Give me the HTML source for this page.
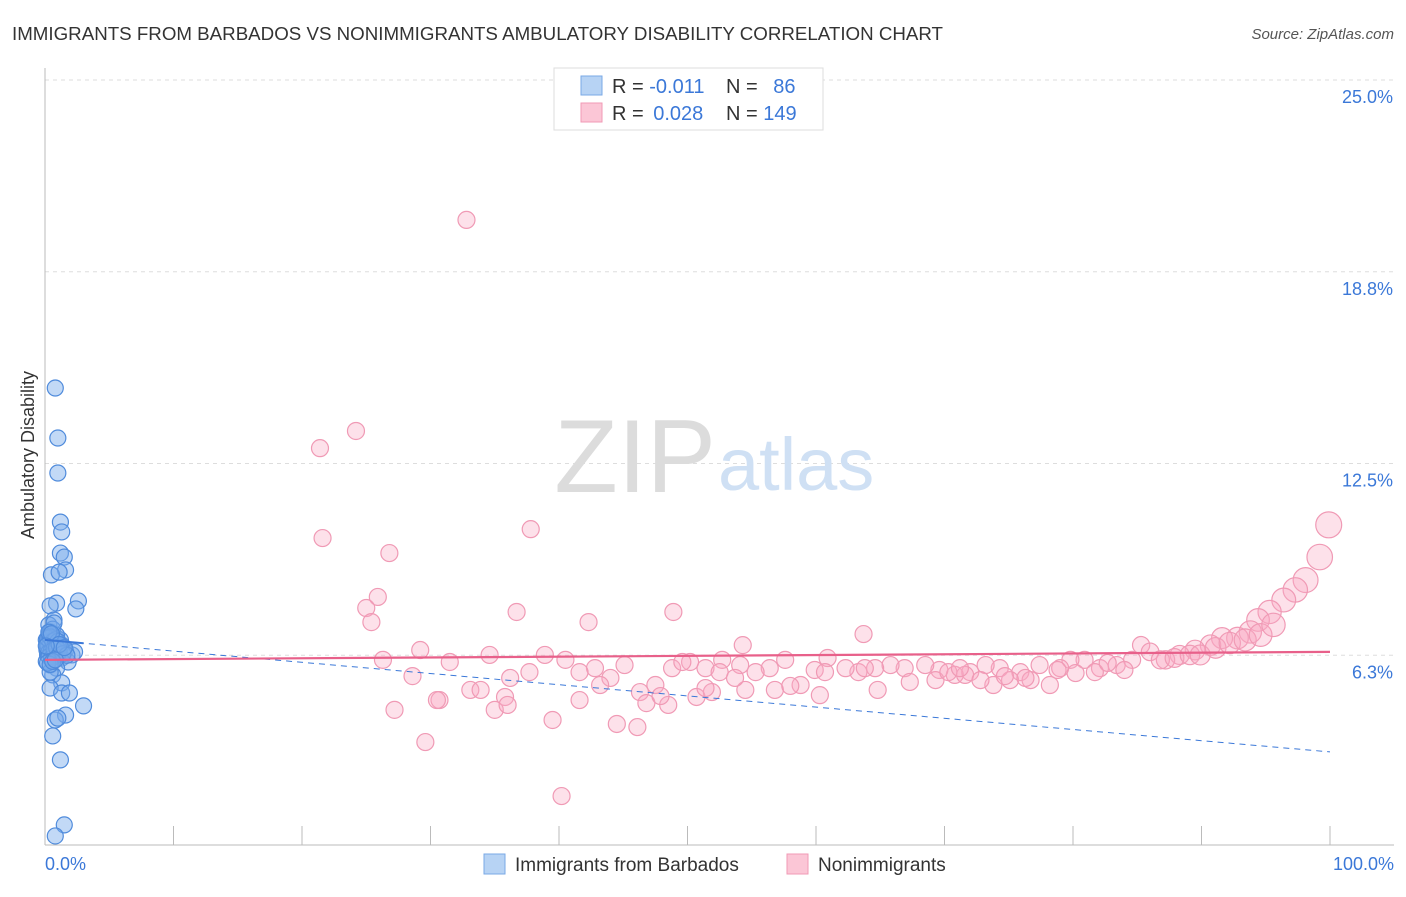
<!DOCTYPE html>
<html><head><meta charset="utf-8"><style>
body{margin:0;background:#fff;font-family:"Liberation Sans",sans-serif;}
svg text{font-family:"Liberation Sans",sans-serif;}
</style></head><body>
<svg id="chart" width="1406" height="892">
<text x="12" y="40" font-size="18" fill="#333" textLength="931" lengthAdjust="spacingAndGlyphs">IMMIGRANTS FROM BARBADOS VS NONIMMIGRANTS AMBULATORY DISABILITY CORRELATION CHART</text>
<text x="1394" y="39" font-size="15" fill="#555" font-style="italic" text-anchor="end">Source: ZipAtlas.com</text>
<g id="grid"></g>
<text x="716" y="492" font-size="104" fill="#dcdcdc" font-family="Liberation Serif" text-anchor="end">ZIP</text>
<text x="718" y="490" font-size="74" fill="#cfe0f4">atlas</text>
<g id="pink"></g><g id="blue"></g><g id="trend"></g>
<text transform="translate(34,455) rotate(-90)" font-size="18" fill="#333" text-anchor="middle">Ambulatory Disability</text>
<text x="45" y="870" font-size="18" fill="#3b78d8">0.0%</text>
<text x="1394" y="870" font-size="18" fill="#3b78d8" text-anchor="end">100.0%</text>
<g>
<rect x="554" y="68" width="269" height="62" fill="#fff" stroke="#ddd"/>
<rect x="581" y="76" width="21" height="19" fill="#b7d3f4" stroke="#7aa8e6"/>
<rect x="581" y="103" width="21" height="19" fill="#fbc6d6" stroke="#f09ab5"/>
<text x="612" y="93" font-size="20" fill="#333">R = <tspan fill="#3b78d8">-0.011</tspan></text>
<text x="726" y="93" font-size="20" fill="#333">N = <tspan fill="#3b78d8" dx="10">86</tspan></text>
<text x="612" y="120" font-size="20" fill="#333">R = <tspan fill="#3b78d8" dx="4">0.028</tspan></text>
<text x="726" y="120" font-size="20" fill="#333">N = <tspan fill="#3b78d8">149</tspan></text>
</g>
<g>
<rect x="484" y="854" width="21" height="20" fill="#b7d3f4" stroke="#7aa8e6"/>
<text x="515" y="871" font-size="19" fill="#333">Immigrants from Barbados</text>
<rect x="787" y="854" width="21" height="20" fill="#fbc6d6" stroke="#f09ab5"/>
<text x="818" y="871" font-size="19" fill="#333">Nonimmigrants</text>
</g>
</svg>
<script>
const yTicks=[6.25,12.5,18.75,25];
const yTickLabels=["6.3%","12.5%","18.8%","25.0%"];
const xTicks=[0,10,20,30,40,50,60,70,80,90,100];
const blueX=[0.8,1.0,1.0,1.2,1.3,1.2,1.5,1.6,0.5,1.1,2.6,2.4,0.9,0.4,0.7,0.3,0.4,0.9,1.3,0.2,0.5,1.0,1.6,2.1,0.2,0.7,1.3,0.4,1.8,0.9,0.6,1.3,0.4,1.3,1.9,3.0,1.6,0.8,1.0,0.6,1.2,1.5,0.8,0.1,0.15,1.2,2.3,0.3,0.6,0.2,0.5,0.9,0.1,0.4,0.7,
0.2,0.4,0.6,0.8,1.0,1.2,0.3,0.5,0.7,0.9,1.1,0.2,0.4,0.6,0.8,1.0,0.3,0.5,0.7,0.9,1.4,1.7,0.2,0.4,0.6,0.8,0.3,0.5,1.1,1.5,0.1];
const blueY=[14.96,13.33,12.19,10.59,10.27,9.58,9.45,9.03,8.87,8.96,8.02,7.76,7.95,7.86,7.40,7.24,7.01,6.81,6.58,6.68,6.49,6.36,6.42,6.26,6.26,6.10,6.16,5.93,6.03,5.83,5.61,5.35,5.18,5.02,5.02,4.60,4.30,4.14,4.20,3.62,2.84,0.72,0.36,6.75,6.42,6.75,6.36,6.9,7.1,6.5,6.2,6.9,6.05,5.7,7.3,
6.6,6.7,6.5,6.6,6.45,6.55,6.35,6.4,6.3,6.25,6.35,6.8,6.85,6.7,6.75,6.7,6.2,6.15,6.45,6.5,6.3,6.25,6.0,5.95,6.05,6.1,7.0,6.95,6.6,6.5,6.55];
const pinkX=[32.8,21.4,24.2,21.6,37.8,26.8,25.9,25.0,25.4,36.7,48.9,42.3,63.7,54.3,85.3,99.9,99.2,98.1,97.3,96.4,95.3,94.4,93.8,92.8,91.6,90.7,89.5,88.3,87.2,86.0,84.6,83.4,82.1,80.9,79.8,79.0,77.4,75.9,74.3,73.2,72.0,70.8,69.6,68.5,66.9,65.8,64.6,63.3,62.3,60.9,59.9,58.8,57.6,56.4,55.3,54.1,52.7,51.4,50.2,48.8,47.5,46.3,45.1,44.0,42.8,41.6,40.5,38.9,37.7,36.2,34.6,33.1,31.5,30.7,29.2,28.6,26.3,27.2,29.6,30.5,33.9,35.0,35.8,36.0,39.5,40.2,44.5,46.1,46.8,48.5,50.7,51.9,51.4,54.5,56.8,58.0,60.3,64.8,67.3,69.3,71.6,73.8,75.1,76.7,78.2,80.2,81.7,84.0,86.8,87.9,89.1,89.9,91.1,92.2,93.4,94.6,95.6,82.7,78.8,72.8,70.3,60.7,63.8,52.5,53.7,41.6,43.2,47.9,49.6,71.2,74.7,76.3];
const pinkY=[20.44,13.0,13.56,10.07,10.36,9.58,8.15,7.79,7.33,7.66,7.66,7.33,6.94,6.58,6.58,10.5,9.45,8.70,8.38,8.05,7.66,7.40,7.01,6.81,6.81,6.58,6.42,6.26,6.10,6.36,6.10,5.93,5.83,6.10,6.10,5.83,5.93,5.70,5.83,5.93,5.70,5.61,5.77,5.93,5.83,5.93,5.83,5.70,5.83,6.16,5.77,5.28,6.10,5.83,5.70,5.93,6.10,5.83,6.03,5.83,5.28,5.05,5.93,5.51,5.83,5.70,6.10,6.26,5.70,5.51,6.26,5.12,6.03,4.79,6.42,5.57,6.10,4.47,3.42,4.79,5.12,4.47,4.89,4.63,4.14,1.66,4.01,3.91,4.69,4.63,4.89,5.05,5.18,5.12,5.12,5.25,4.95,5.12,5.38,5.44,5.61,5.28,5.44,5.44,5.28,5.67,5.70,5.77,6.10,6.16,6.26,6.26,6.49,6.65,6.75,6.91,7.24,6.00,5.77,5.44,5.70,5.70,5.83,5.70,5.51,4.79,5.28,4.92,6.03,5.83,5.57,5.51];
const blueTrend=[6.75,3.1];
const pinkTrend=[6.1,6.36];
const NS="http://www.w3.org/2000/svg";
const X0=45,X1=1330,Y0=847,Y25=80;
function sx(v){return X0+(X1-X0)*v/100;}
function sy(v){return Y0-(Y0-Y25)*v/25;}
function mk(tag,attrs,parent){const e=document.createElementNS(NS,tag);for(const k in attrs)e.setAttribute(k,attrs[k]);parent.appendChild(e);return e;}
const grid=document.getElementById('grid');
yTicks.forEach((t,i)=>{
 const l=mk('line',{x1:45,x2:1394,y1:sy(t),y2:sy(t),stroke:'#ddd','stroke-dasharray':'4,4'},grid);
 
 
 const tx=mk('text',{x:1393,y:sy(t)+23,'font-size':18,fill:'#3b78d8','text-anchor':'end'},grid);
 tx.textContent=yTickLabels[i];
 
 
});
const ax=mk('line',{x1:45,x2:45,y1:68,y2:845,stroke:'#bbb'},grid);


const bx=mk('line',{x1:45,x2:1394,y1:845,y2:845,stroke:'#bbb'},grid);


xTicks.forEach(t=>{
 const l=mk('line',{x1:sx(t),x2:sx(t),y1:826,y2:845,stroke:'#bbb'},grid);
 
 
});
const pg=document.getElementById('pink');
pinkX.forEach((x,i)=>{
 const r=8.5+Math.max(0,x-85)*0.3;
 const c=mk('circle',{cx:sx(x),cy:sy(pinkY[i]),r:r,fill:'rgba(248,170,195,0.35)',stroke:'#f09ab5','stroke-width':1.2},pg);
 
 
});
const bg=document.getElementById('blue');
blueX.forEach((x,i)=>{
 const c=mk('circle',{cx:sx(x),cy:sy(blueY[i]),r:8,fill:'rgba(120,170,235,0.45)',stroke:'#4f8bdc','stroke-width':1.2},bg);
 
 
});
const tg=document.getElementById('trend');
const b1=mk('line',{x1:sx(0),y1:sy(blueTrend[0]),x2:sx(100),y2:sy(blueTrend[1]),stroke:'#3b78d8','stroke-width':1,'stroke-dasharray':'6,5'},tg);


const b2=mk('line',{x1:sx(0),y1:sy(blueTrend[0]),x2:sx(3),y2:sy(blueTrend[0]+(blueTrend[1]-blueTrend[0])*0.03),stroke:'#3b78d8','stroke-width':2},tg);


const p1=mk('line',{x1:sx(0),y1:sy(pinkTrend[0]),x2:sx(100),y2:sy(pinkTrend[1]),stroke:'#e8608a','stroke-width':2.2},tg);


</script>
</body></html>
